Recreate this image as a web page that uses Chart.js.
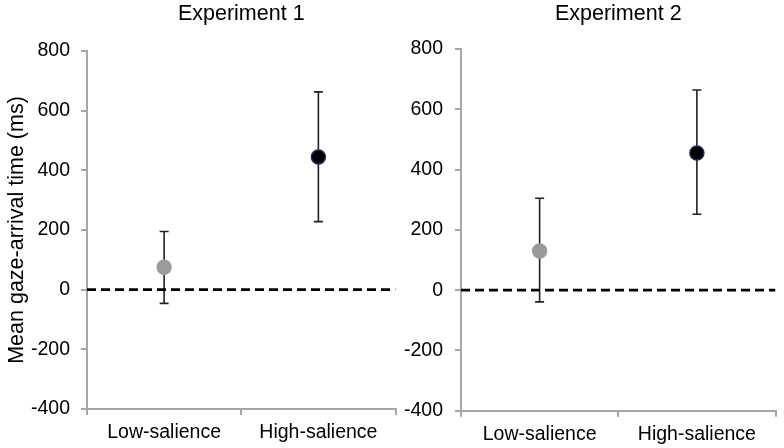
<!DOCTYPE html>
<html>
<head>
<meta charset="utf-8">
<script src="https://cdn.jsdelivr.net/npm/chart.js@4.4.1/dist/chart.umd.min.js"></script>
<style>
  html, body { margin: 0; padding: 0; background: #fff; }
  #wrap { position: relative; width: 784px; height: 448px; overflow: hidden; }
  canvas { position: absolute; top: 0; }
  #c1 { left: 0; }
  #c2 { left: 400px; }
</style>
</head>
<body>
<div id="wrap">
  <canvas id="c1" width="404" height="448"></canvas>
  <canvas id="c2" width="384" height="448"></canvas>
</div>
<script>
// ---- data ----
const categories = ['Low-salience', 'High-salience'];
const panelTitles = ['Experiment 1', 'Experiment 2'];
const exp1Means = [75, 445];
const exp1Upper = [195, 663];
const exp1Lower = [-46, 228];
const exp2Means = [130, 455];
const exp2Upper = [305, 664];
const exp2Lower = [-39, 252];
const yTicks = [-400, -200, 0, 200, 400, 600, 800];
const referenceValue = 0;
const yTitle = 'Mean gaze-arrival time (ms)';

const FONT = '"Liberation Sans", Arial, Helvetica, sans-serif';
const AXIS = '#a6a6a6';

const errorBarPlugin = {
  id: 'errorBars',
  beforeDatasetsDraw(chart, args, opts) {
    const ctx = chart.ctx;
    const xs = chart.scales.x, ys = chart.scales.y;
    ctx.save();
    ctx.strokeStyle = '#222';
    ctx.lineWidth = 1.6;
    opts.upper.forEach((u, i) => {
      const x = xs.getPixelForValue(i);
      const yU = ys.getPixelForValue(u);
      const yL = ys.getPixelForValue(opts.lower[i]);
      ctx.beginPath();
      ctx.moveTo(x, yU); ctx.lineTo(x, yL);
      ctx.moveTo(x - 4.5, yU); ctx.lineTo(x + 4.5, yU);
      ctx.moveTo(x - 4.5, yL); ctx.lineTo(x + 4.5, yL);
      ctx.stroke();
    });
    ctx.restore();
  }
};

function makeChart(id, title, means, upper, lower, cfg) {
  return new Chart(document.getElementById(id), {
    type: 'line',
    data: {
      labels: categories,
      datasets: [
        {
          data: means,
          showLine: false,
          pointRadius: 7,
          pointHoverRadius: 7,
          pointBackgroundColor: ['#9b9b9b', '#000000'],
          pointBorderColor: ['#9b9b9b', '#1b2a5e'],
          pointBorderWidth: 1.5,
          order: 0
        },
        {
          data: [{ x: 0, y: referenceValue }, { x: 1, y: referenceValue }],
          xAxisID: 'x2',
          borderColor: '#000',
          borderWidth: 2.8,
          borderDash: [9, 5],
          pointRadius: 0,
          fill: false,
          order: 1
        }
      ]
    },
    options: {
      responsive: false,
      animation: false,
      devicePixelRatio: 1,
      layout: { padding: { top: 0, right: cfg.padRight, bottom: 0, left: 0 } },
      plugins: {
        legend: { display: false },
        tooltip: { enabled: false },
        title: {
          display: true,
          text: title,
          fullSize: false,
          color: '#000',
          font: { family: FONT, size: 21.5, weight: 'normal' },
          padding: { top: 1, bottom: cfg.titleBottom }
        },
        errorBars: { upper: upper, lower: lower }
      },
      scales: {
        x: {
          type: 'category',
          offset: true,
          grid: { offset: true, drawOnChartArea: false, tickLength: 6, color: AXIS, lineWidth: 2 },
          border: { color: AXIS, width: 2 },
          ticks: { color: '#000', font: { family: FONT, size: 19.5 }, padding: 6 },
          afterFit(s) { s.height = cfg.xHeight; }
        },
        x2: { type: 'linear', display: false, min: 0, max: 1 },
        y: {
          min: yTicks[0],
          max: yTicks[yTicks.length - 1],
          afterBuildTicks(s) { s.ticks = yTicks.map(v => ({ value: v })); },
          grid: { drawOnChartArea: false, tickLength: 6, color: AXIS, lineWidth: 2 },
          border: { color: AXIS, width: 2 },
          ticks: { color: '#000', font: { family: FONT, size: 19.5 }, padding: cfg.tickPad },
          title: {
            display: cfg.showYTitle,
            text: yTitle,
            color: '#000',
            font: { family: FONT, size: 21.5 },
            padding: { top: 4, bottom: 0 }
          },
          afterFit(s) { s.width = cfg.yWidth; }
        }
      }
    },
    plugins: [errorBarPlugin]
  });
}

makeChart('c1', panelTitles[0], exp1Means, exp1Upper, exp1Lower,
  { padRight: 4, titleBottom: 24.2, xHeight: 39, yWidth: 87, tickPad: 11, showYTitle: true });
makeChart('c2', panelTitles[1], exp2Means, exp2Upper, exp2Lower,
  { padRight: 8, titleBottom: 22.2, xHeight: 37.3, yWidth: 61, tickPad: 12, showYTitle: false });
</script>
</body>
</html>
